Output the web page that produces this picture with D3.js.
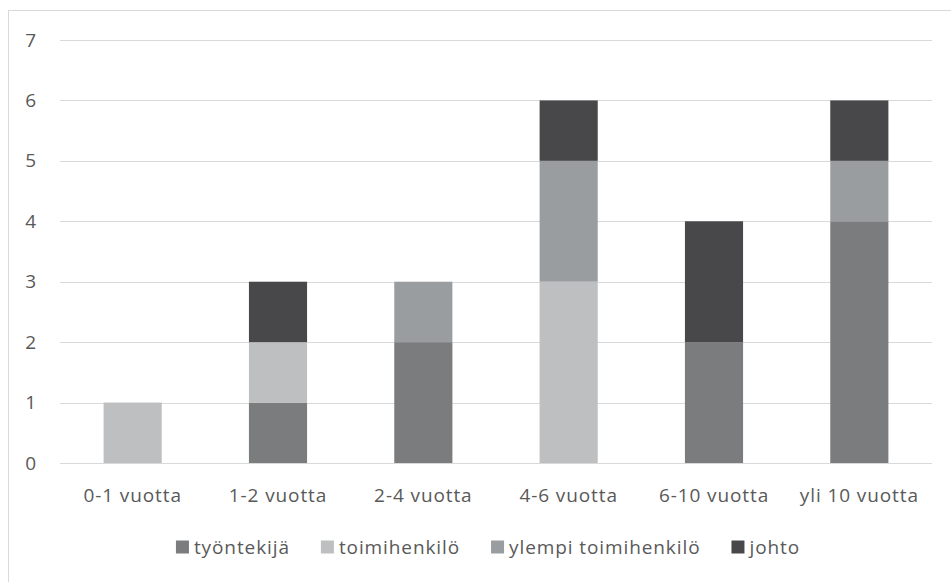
<!DOCTYPE html>
<html>
<head>
<meta charset="utf-8">
<script src="https://cdn.jsdelivr.net/npm/d3@7"></script>
<style>
  html, body { margin: 0; padding: 0; background: #fff; }
  svg { display: block; }
  text { font-family: "Open Sans", "Noto Sans", sans-serif; fill: #595959; letter-spacing: 0.9px; }
</style>
</head>
<body>
<svg id="chart" width="951" height="582"></svg>
<script>
// Categories (years of service) and the four stacked series
const categories = ["0-1 vuotta", "1-2 vuotta", "2-4 vuotta", "4-6 vuotta", "6-10 vuotta", "yli 10 vuotta"];
const seriesNames = ["työntekijä", "toimihenkilö", "ylempi toimihenkilö", "johto"];
const tyontekija = [0, 1, 2, 0, 2, 4];
const toimihenkilo = [1, 1, 0, 3, 0, 0];
const ylempi = [0, 0, 1, 2, 0, 1];
const johto = [0, 1, 0, 1, 2, 1];
const yTicks = [0, 1, 2, 3, 4, 5, 6, 7];
const colors = ["#7b7c7e", "#bebfc1", "#9a9da0", "#48484a"];

const rows = categories.map((c, i) => ({
  cat: c,
  "työntekijä": tyontekija[i],
  "toimihenkilö": toimihenkilo[i],
  "ylempi toimihenkilö": ylempi[i],
  "johto": johto[i]
}));

const FS = 19;
const svg = d3.select("#chart");
const margin = { left: 60, right: 19, top: 40, bottom: 119 };
const W = 951, H = 582;
const x = d3.scaleBand().domain(categories).range([margin.left, W - margin.right]).paddingInner(0.6).paddingOuter(0.3);
const y = d3.scaleLinear().domain([0, 7]).range([H - margin.bottom, margin.top]);

// Outer chart frame
svg.append("rect").attr("x", 8.5).attr("y", 10.5).attr("width", 980).attr("height", 620)
  .attr("fill", "none").attr("stroke", "#d9d9d9").attr("stroke-width", 1);

// Horizontal gridlines
svg.append("g").selectAll("line").data(yTicks).join("line")
  .attr("x1", margin.left).attr("x2", W - margin.right)
  .attr("y1", d => Math.round(y(d)) + 0.5).attr("y2", d => Math.round(y(d)) + 0.5)
  .attr("stroke", "#d9d9d9").attr("stroke-width", 1.2);

// Y axis labels
const yAxis = d3.axisLeft(y).tickValues(yTicks).tickFormat(d3.format("d")).tickSize(0).tickPadding(0);
const gy = svg.append("g").attr("transform", "translate(37,0)").call(yAxis);
gy.select(".domain").remove();
gy.selectAll("text").attr("font-size", FS).attr("fill", "#595959").attr("font-family", "Open Sans");

// Stacked bars
const stack = d3.stack().keys(seriesNames);
const layers = stack(rows);
svg.append("g").selectAll("g").data(layers).join("g")
  .attr("fill", (d, i) => colors[i])
  .selectAll("rect").data(d => d.filter(p => p[1] > p[0])).join("rect")
  .attr("x", d => x(d.data.cat))
  .attr("width", x.bandwidth())
  .attr("y", d => y(d[1]))
  .attr("height", d => y(d[0]) - y(d[1]));

// X axis labels
const xAxis = d3.axisBottom(x).tickSize(0).tickPadding(0);
const gx = svg.append("g").attr("transform", `translate(0,${H - margin.bottom})`).call(xAxis);
gx.select(".domain").remove();
gx.selectAll("text").attr("font-size", FS).attr("fill", "#595959").attr("font-family", "Open Sans")
  .attr("dy", null).attr("y", 39);

// Legend, centred below the plot
const legend = svg.append("g");
const items = legend.selectAll("g").data(seriesNames).join("g");
items.append("rect").attr("width", 13).attr("height", 13).attr("y", -6.5).attr("fill", (d, i) => colors[i]);
items.append("text").attr("x", 18).attr("dy", "0.35em").attr("font-size", FS).text(d => d);
let cx = 0;
const gap = 31;
items.each(function () {
  const g = d3.select(this);
  const w = 18 + g.select("text").node().getComputedTextLength();
  g.attr("transform", `translate(${cx},0)`);
  cx += w + gap;
});
const total = cx - gap;
legend.attr("transform", `translate(${488 - total / 2},547)`);
</script>
</body>
</html>
